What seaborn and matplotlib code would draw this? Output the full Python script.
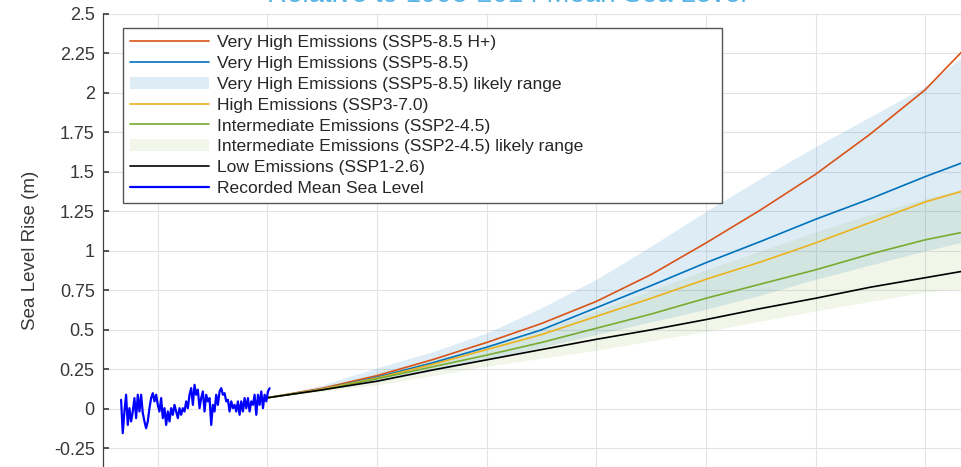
import numpy as np
import pandas as pd
import matplotlib
matplotlib.use('Agg')
import matplotlib.pyplot as plt
import seaborn as sns

# --- data (metres, relative to 1995-2014 mean) ---
record_start, record_end = 1993.3, 2020.4
record_msl = [0.057, -0.154, -0.017, 0.089, -0.102, 0.004, -0.080, -0.017, 0.068, -0.059,
              0.089, -0.017, 0.089, -0.027, -0.080, -0.123, -0.080, 0.004, 0.068, 0.099,
              0.047, 0.089, 0.025, -0.017, 0.068, -0.059, 0.004, -0.102, -0.017, -0.080,
              0.004, -0.038, 0.025, -0.017, -0.059, 0.004, -0.038, 0.004, -0.017, 0.047,
              0.004, 0.089, 0.131, 0.025, 0.152, 0.089, 0.121, 0.004, 0.068, 0.110,
              -0.017, 0.089, 0.047, 0.068, -0.102, 0.025, -0.017, 0.089, 0.025, 0.110,
              0.131, 0.089, 0.099, 0.047, 0.057, -0.017, 0.047, 0.004, 0.025, -0.017,
              0.047, -0.038, 0.047, -0.017, 0.068, 0.004, 0.068, -0.017, 0.047, 0.025,
              0.089, -0.038, 0.089, 0.025, 0.110, 0.004, 0.089, 0.047, 0.110, 0.130]

proj_years = [2020, 2030, 2040, 2050, 2060, 2070, 2080, 2090, 2100, 2110, 2120, 2130, 2140, 2150]
ssp585_hplus = [0.07, 0.13, 0.21, 0.31, 0.42, 0.54, 0.68, 0.85, 1.05, 1.26, 1.485, 1.74, 2.02, 2.38]
ssp585 = [0.07, 0.125, 0.20, 0.29, 0.39, 0.50, 0.64, 0.78, 0.925, 1.06, 1.20, 1.33, 1.47, 1.60]
ssp585_lo = [0.07, 0.12, 0.17, 0.24, 0.31, 0.39, 0.47, 0.55, 0.63, 0.72, 0.82, 0.91, 1.00, 1.08]
ssp585_hi = [0.07, 0.15, 0.26, 0.36, 0.48, 0.64, 0.82, 1.03, 1.25, 1.46, 1.66, 1.85, 2.04, 2.32]
ssp370 = [0.07, 0.125, 0.195, 0.28, 0.375, 0.47, 0.585, 0.70, 0.82, 0.93, 1.05, 1.18, 1.31, 1.41]
ssp245 = [0.07, 0.12, 0.19, 0.265, 0.34, 0.42, 0.51, 0.60, 0.70, 0.79, 0.88, 0.98, 1.07, 1.14]
ssp245_lo = [0.07, 0.11, 0.15, 0.21, 0.27, 0.32, 0.37, 0.43, 0.49, 0.555, 0.62, 0.68, 0.74, 0.77]
ssp245_hi = [0.07, 0.13, 0.23, 0.31, 0.40, 0.50, 0.62, 0.75, 0.88, 1.00, 1.12, 1.23, 1.33, 1.42]
ssp126 = [0.07, 0.12, 0.175, 0.245, 0.31, 0.375, 0.44, 0.50, 0.565, 0.635, 0.70, 0.77, 0.83, 0.89]

y_ticks = [-0.25, 0, 0.25, 0.5, 0.75, 1, 1.25, 1.5, 1.75, 2, 2.25, 2.5]
y_tick_labels = ['-0.25', '0', '0.25', '0.5', '0.75', '1', '1.25', '1.5', '1.75', '2', '2.25', '2.5']
x_ticks = [2000, 2020, 2040, 2060, 2080, 2100, 2120, 2140]

C_RED, C_BLUE, C_YEL, C_GRN = '#D95319', '#0072BD', '#EDB120', '#77AC30'

sns.set_theme(style='white')
plt.rcParams['font.family'] = ['Liberation Sans', 'DejaVu Sans']

fig = plt.figure(figsize=(9.62, 4.67), dpi=100)
# the reference is a crop: axes runs past the right and bottom edges on purpose
ax = fig.add_axes([103 / 962, -0.0445, 877 / 962, 1.0146])

proj = pd.DataFrame({'year': proj_years})
ax.fill_between(proj['year'], ssp585_lo, ssp585_hi, color=C_BLUE, alpha=0.13, lw=0,
                label='Very High Emissions (SSP5-8.5) likely range')
ax.fill_between(proj['year'], ssp245_lo, ssp245_hi, color=C_GRN, alpha=0.10, lw=0,
                label='Intermediate Emissions (SSP2-4.5) likely range')

series = [
    (ssp585_hplus, C_RED, 'Very High Emissions (SSP5-8.5 H+)'),
    (ssp585, C_BLUE, 'Very High Emissions (SSP5-8.5)'),
    (ssp370, C_YEL, 'High Emissions (SSP3-7.0)'),
    (ssp245, C_GRN, 'Intermediate Emissions (SSP2-4.5)'),
    (ssp126, 'black', 'Low Emissions (SSP1-2.6)'),
]
for vals, col, lab in series:
    sns.lineplot(x=proj_years, y=vals, color=col, lw=1.2, label=lab, ax=ax)

rec_years = np.linspace(record_start, record_end, len(record_msl))
sns.lineplot(x=rec_years, y=record_msl, color='#0000FF', lw=1.6,
             label='Recorded Mean Sea Level', ax=ax)

ax.set_xlim(1990, 2150)
ax.set_ylim(-0.5, 2.5)
ax.set_xticks(x_ticks)
ax.set_xticklabels([])
ax.set_yticks(y_ticks)
ax.set_yticklabels(y_tick_labels)
ax.grid(True, color='#E3E3E3', lw=0.8)
ax.set_axisbelow(True)
for s in ['top', 'right']:
    ax.spines[s].set_visible(False)
for s in ['left', 'bottom']:
    ax.spines[s].set_color('#404040')
    ax.spines[s].set_linewidth(0.9)
ax.tick_params(axis='both', direction='in', length=4, color='#404040',
               labelcolor='#383838', labelsize=13, pad=6, left=True, bottom=True)
ax.set_ylabel('Sea Level Rise (m)', fontsize=13.5, color='#383838')
ax.yaxis.set_label_coords(-0.073, 0.5)

handles, labels = ax.get_legend_handles_labels()
order = ['Very High Emissions (SSP5-8.5 H+)', 'Very High Emissions (SSP5-8.5)',
         'Very High Emissions (SSP5-8.5) likely range', 'High Emissions (SSP3-7.0)',
         'Intermediate Emissions (SSP2-4.5)', 'Intermediate Emissions (SSP2-4.5) likely range',
         'Low Emissions (SSP1-2.6)', 'Recorded Mean Sea Level']
lut = dict(zip(labels, handles))
leg = ax.legend([lut[o] for o in order], order, loc='upper left', mode='expand',
                bbox_to_anchor=(0.0228, 0.6032, 0.683, 0.3673), fontsize=12.6,
                frameon=True, fancybox=False, framealpha=1, edgecolor='#555555',
                handlelength=4.5, handletextpad=0.45, labelspacing=0.32,
                borderpad=0.4, borderaxespad=0)
leg.get_frame().set_linewidth(1.0)
for t in leg.get_texts():
    t.set_color('#262626')

fig.text(507 / 962, 0.9957, 'Relative to 1995-2014 Mean Sea Level', ha='center',
         va='baseline', fontsize=20, color='#58B4E4')

fig.savefig('out.png', dpi=100)
